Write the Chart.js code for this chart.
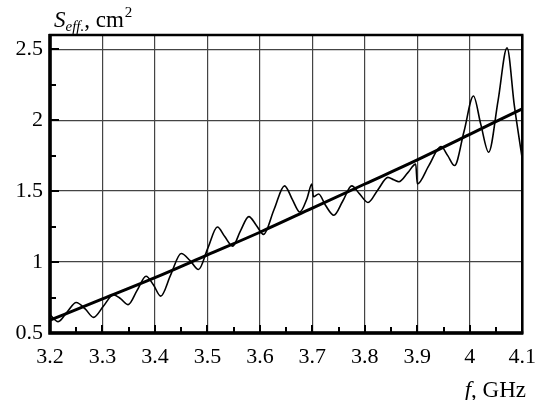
<!DOCTYPE html>
<html>
<head>
<meta charset="utf-8">
<script src="https://cdn.jsdelivr.net/npm/chart.js@4/dist/chart.umd.min.js"></script>
<style>
  html, body { margin: 0; padding: 0; background: #fff; }
  #wrap { width: 547px; height: 400px; }
</style>
</head>
<body>
<div id="wrap"><canvas id="chart"></canvas></div>
<script>
// tick labels
const xTicks = [3.2, 3.3, 3.4, 3.5, 3.6, 3.7, 3.8, 3.9, 4.0, 4.1]
const yTicks = [0.5, 1, 1.5, 2, 2.5]
const xMinor = [3.25, 3.35, 3.45, 3.55, 3.65, 3.75, 3.85, 3.95, 4.05]
const yMinor = [0.75, 1.25, 1.75, 2.25]

const fMeas = [3.200, 3.2155, 3.233, 3.250, 3.267, 3.283, 3.302, 3.321, 3.335, 3.349,
               3.366, 3.383, 3.397, 3.411, 3.430, 3.450, 3.467, 3.483, 3.501, 3.519,
               3.533, 3.548, 3.563, 3.579, 3.593, 3.607, 3.627, 3.647, 3.662, 3.676,
               3.690, 3.699, 3.702, 3.712, 3.725, 3.741, 3.758, 3.775, 3.790, 3.806,
               3.825, 3.844, 3.855, 3.865, 3.882, 3.897, 3.900, 3.922, 3.945, 3.958,
               3.971, 3.989, 4.007, 4.021, 4.036, 4.054, 4.071, 4.085, 4.100]
const sMeas = [0.63, 0.58, 0.65, 0.715, 0.67, 0.61, 0.69, 0.77, 0.74, 0.70,
               0.80, 0.90, 0.84, 0.76, 0.91, 1.06, 1.01, 0.947, 1.10, 1.247,
               1.18, 1.112, 1.22, 1.32, 1.26, 1.195, 1.37, 1.537, 1.44, 1.353,
               1.45, 1.55, 1.46, 1.48, 1.40, 1.33, 1.43, 1.537, 1.48, 1.42,
               1.51, 1.597, 1.58, 1.566, 1.63, 1.69, 1.55, 1.68, 1.814, 1.75,
               1.68, 1.92, 2.17, 1.97, 1.774, 2.14, 2.51, 2.10, 1.727]

// smooth trend line
const fTrend = [3.2, 3.3, 3.4, 3.5, 3.6, 3.7, 3.8, 3.9, 4.0, 4.1]
const sTrend = [0.59, 0.74, 0.89, 1.05, 1.21, 1.38, 1.55, 1.72, 1.90, 2.08]

const FONT = '"Liberation Serif", "Times New Roman", serif'

const decorations = {
    id: 'decorations',
    afterDraw(chart) {
        const ctx = chart.ctx
        const a = chart.chartArea
        const xs = chart.scales.x
        const ys = chart.scales.y
        ctx.save()
        ctx.strokeStyle = '#000'
        ctx.lineCap = 'butt'

        // inward ticks on bottom and left axes
        ctx.lineWidth = 2
        ctx.beginPath()
        xTicks.forEach(v => {
            const px = Math.round(xs.getPixelForValue(v))
            ctx.moveTo(px, a.bottom); ctx.lineTo(px, a.bottom - 8)
        })
        xMinor.forEach(v => {
            const px = Math.round(xs.getPixelForValue(v))
            ctx.moveTo(px, a.bottom); ctx.lineTo(px, a.bottom - 6)
        })
        yTicks.forEach(v => {
            const py = Math.round(ys.getPixelForValue(v))
            ctx.moveTo(a.left, py); ctx.lineTo(a.left + 9, py)
        })
        yMinor.forEach(v => {
            const py = Math.round(ys.getPixelForValue(v))
            ctx.moveTo(a.left, py); ctx.lineTo(a.left + 6, py)
        })
        ctx.stroke()

        // frame
        ctx.lineWidth = 2.5
        ctx.strokeRect(a.left, a.top, a.right - a.left, a.bottom - a.top)
        ctx.lineWidth = 3.5
        ctx.beginPath()
        ctx.moveTo(a.left, a.top - 1); ctx.lineTo(a.left, a.bottom)
        ctx.lineTo(a.right + 1, a.bottom)
        ctx.stroke()

        // axis titles
        ctx.fillStyle = '#000'
        ctx.textBaseline = 'alphabetic'
        ctx.textAlign = 'left'
        let x = 54
        ctx.font = 'italic 23px ' + FONT
        ctx.fillText('S', x, 27)
        x += ctx.measureText('S').width
        ctx.font = 'italic 15px ' + FONT
        ctx.fillText('eff.', x, 31)
        x += ctx.measureText('eff.').width
        ctx.font = '23px ' + FONT
        ctx.fillText(', cm', x, 27)
        x += ctx.measureText(', cm').width
        ctx.font = '15px ' + FONT
        ctx.fillText('2', x + 1, 17)

        ctx.textAlign = 'right'
        ctx.font = '23px ' + FONT
        const gw = ctx.measureText(', GHz').width
        ctx.fillText(', GHz', 526, 397)
        ctx.font = 'italic 23px ' + FONT
        ctx.fillText('f', 526 - gw, 397)
        ctx.restore()
    }
}

new Chart(document.getElementById('chart'), {
    type: 'line',
    data: {
        datasets: [{
            data: fMeas.map((f, i) => ({ x: f, y: sMeas[i] })),
            borderColor: '#000',
            borderWidth: 1.6,
            pointRadius: 0,
            cubicInterpolationMode: 'monotone'
        }, {
            data: fTrend.map((f, i) => ({ x: f, y: sTrend[i] })),
            borderColor: '#000',
            borderWidth: 3,
            pointRadius: 0,
            cubicInterpolationMode: 'monotone'
        }]
    },
    options: {
        responsive: true,
        maintainAspectRatio: false,
        animation: false,
        layout: { padding: { top: 35, right: 15, left: 0, bottom: 0 } },
        plugins: { legend: { display: false }, tooltip: { enabled: false } },
        scales: {
            x: {
                type: 'linear',
                min: 3.2,
                max: 4.1,
                afterBuildTicks: s => { s.ticks = xTicks.map(v => ({ value: v })) },
                afterFit: s => { s.height = 67 },
                grid: { color: '#444', lineWidth: 1.2, drawTicks: false },
                border: { display: false },
                ticks: {
                    autoSkip: false,
                    maxRotation: 0,
                    padding: 11,
                    color: '#000',
                    font: { family: FONT, size: 22 },
                    callback: v => String(Number(v.toFixed(2)))
                }
            },
            y: {
                type: 'linear',
                min: 0.5,
                max: 2.6,
                afterBuildTicks: s => { s.ticks = yTicks.map(v => ({ value: v })) },
                afterFit: s => { s.width = 50 },
                grid: { color: '#444', lineWidth: 1.2, drawTicks: false },
                border: { display: false },
                ticks: {
                    padding: 7,
                    color: '#000',
                    font: { family: FONT, size: 22 },
                    callback: v => String(Number(v.toFixed(2)))
                }
            }
        }
    },
    plugins: [decorations]
})
</script>
</body>
</html>
